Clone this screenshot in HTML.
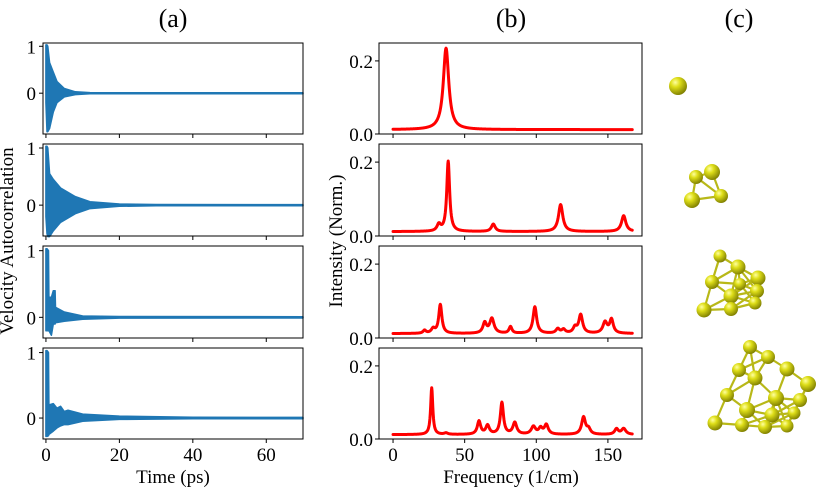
<!DOCTYPE html>
<html><head><meta charset="utf-8">
<style>
html,body{margin:0;padding:0;background:#fff;}
svg{display:block;font-family:"Liberation Serif",serif;}
</style></head>
<body>
<svg id="fig" width="831" height="490" viewBox="0 0 831 490" xmlns="http://www.w3.org/2000/svg">
<defs>
<radialGradient id="ball" cx="0.35" cy="0.3" r="0.75">
<stop offset="0" stop-color="#ffffa0"/>
<stop offset="0.35" stop-color="#dede18"/>
<stop offset="1" stop-color="#7a7a00"/>
</radialGradient>
</defs>
<text x="173" y="27" font-size="26" text-anchor="middle">(a)</text>
<text x="511" y="27" font-size="26" text-anchor="middle">(b)</text>
<text x="739" y="27" font-size="26" text-anchor="middle">(c)</text>
<text x="173" y="483" font-size="19" text-anchor="middle">Time (ps)</text>
<text x="511" y="483" font-size="19" text-anchor="middle">Frequency (1/cm)</text>
<text transform="translate(13,241) rotate(-90)" font-size="19" text-anchor="middle">Velocity Autocorrelation</text>
<text transform="translate(342,241) rotate(-90)" font-size="19" text-anchor="middle">Intensity (Norm.)</text>
<g id="plots"></g>
<g id="clusters"></g>
</svg>
<script>
// ---- data ----
const vacfTimes = [
 [0,0.3,0.5,1,2,3,5,8,12,20,70],
 [0,0.3,0.5,1,2,4,8,12,20,30,70],
 [0,0.3,0.7,0.8,1.5,2,2.5,2.6,5,10,20,70],
 [0,0.3,0.7,0.8,2,3,4,5,6,10,20,40,70]
];
const vacfUpper = [
 [1.03,1.03,1.0,0.65,0.45,0.25,0.1,0.03,0.012,0.01,0.01],
 [1.03,1.03,1.0,0.55,0.45,0.3,0.15,0.06,0.02,0.012,0.01],
 [1.03,1.03,1.0,0.3,0.3,0.4,0.4,0.15,0.08,0.02,0.012,0.01],
 [1.03,1.03,1.0,0.2,0.22,0.15,0.18,0.1,0.12,0.06,0.03,0.012,0.01]
];
const vacfLower = [
 [-0.2,-0.82,-0.82,-0.75,-0.4,-0.2,-0.08,-0.03,-0.012,-0.01,-0.01],
 [-0.2,-0.5,-0.55,-0.55,-0.45,-0.3,-0.15,-0.06,-0.02,-0.012,-0.01],
 [-0.2,-0.2,-0.2,-0.2,-0.27,-0.1,-0.1,-0.08,-0.06,-0.03,-0.012,-0.01],
 [-0.28,-0.28,-0.27,-0.25,-0.2,-0.15,-0.12,-0.1,-0.1,-0.05,-0.02,-0.01,-0.01]
];
const vacfYlim = [[-0.87,1.07],[-0.54,1.07],[-0.31,1.07],[-0.32,1.07]];
const timeTicks = [0,20,40,60];
const vacfYTicks = [0,1];

const peakCenters = [
 [37],
 [32,38.5,70,117,161],
 [22,28,33,64,69,82,99,115,119,127,131,148,152.5],
 [27,37,60,66,76,85,98,103,107,133,136.5,156,161]
];
const peakHeights = [
 [0.223],
 [0.018,0.19,0.02,0.073,0.043],
 [0.008,0.012,0.078,0.028,0.04,0.018,0.072,0.012,0.01,0.015,0.05,0.03,0.037],
 [0.128,0.004,0.036,0.024,0.087,0.032,0.021,0.016,0.026,0.047,0.014,0.015,0.016]
];
const peakWidths = [
 [2.3],
 [1.5,1.2,1.6,1.8,1.8],
 [1.2,1.5,1.3,1.5,1.8,1.2,1.5,1.5,1.5,1.5,1.6,1.8,1.5],
 [0.9,1.5,1.4,1.5,1.3,1.6,1.8,1.5,1.6,1.6,1.5,1.5,1.8]
];
const specBaseline = 0.012;
const freqMax = 167;
const freqTicks = [0,50,100,150];
const specYTicks = [0.0,0.2];

// ---- layout ----
const rows = [[43,134],[144,236],[246,338],[348,439]];
const NS = "http://www.w3.org/2000/svg";
const plots = document.getElementById('plots');
function mk(tag, attrs, parent){
  const e = document.createElementNS(NS, tag);
  for (const k in attrs) e.setAttribute(k, attrs[k]);
  (parent||plots).appendChild(e);
  return e;
}
const aX0=43, aX1=303, aXmin=-0.8, aXmax=70;
const bX0=379, bX1=642, bXmin=-9.8, bXmax=173.8;
const xa = t => aX0 + (t-aXmin)/(aXmax-aXmin)*(aX1-aX0);
const xb = f => bX0 + (f-bXmin)/(bXmax-bXmin)*(bX1-bX0);

rows.forEach((r,i)=>{
  const [top,bot] = r;
  const [ymin,ymax] = vacfYlim[i];
  const ya = v => bot - (v-ymin)/(ymax-ymin)*(bot-top);
  let d = '';
  vacfTimes[i].forEach((t,k)=>{ d += (k?'L':'M')+xa(t).toFixed(1)+','+ya(vacfUpper[i][k]).toFixed(1); });
  for (let k=vacfTimes[i].length-1;k>=0;k--) d += 'L'+xa(vacfTimes[i][k]).toFixed(1)+','+ya(vacfLower[i][k]).toFixed(1);
  d += 'Z';
  const band = mk('path',{d:d,fill:'#1f77b4',stroke:'#1f77b4','stroke-width':1.5,'stroke-linejoin':'round'});
  
  
  const frame = mk('rect',{x:aX0,y:top,width:aX1-aX0,height:bot-top,fill:'none',stroke:'#000','stroke-width':1});
  
  
  timeTicks.forEach(t=>{
    mk('line',{x1:xa(t),x2:xa(t),y1:bot,y2:bot+4,stroke:'#000'});
    if (i===3){
      const tx = mk('text',{x:xa(t),y:bot+22,'font-size':19,'text-anchor':'middle'});
      tx.textContent = t;
      
      
    }
  });
  vacfYTicks.forEach(v=>{
    mk('line',{x1:aX0-4,x2:aX0,y1:ya(v),y2:ya(v),stroke:'#000'});
    const tx = mk('text',{x:aX0-7,y:ya(v)+7,'font-size':19,'text-anchor':'end'});
    tx.textContent = v;
    
    
  });

  const sMin=0, sMax=0.249;
  const yb = v => bot - (v-sMin)/(sMax-sMin)*(bot-top);
  let pd='';
  for (let f=0; f<=freqMax; f+=0.25){
    let v = specBaseline;
    peakCenters[i].forEach((c,k)=>{ const w=peakWidths[i][k]; v += peakHeights[i][k]*w*w/((f-c)*(f-c)+w*w); });
    pd += (f?'L':'M')+xb(f).toFixed(2)+','+yb(v).toFixed(2);
  }
  const line = mk('path',{d:pd,fill:'none',stroke:'#ff0000','stroke-width':3,'stroke-linejoin':'round','stroke-linecap':'round'});
  
  
  const frame2 = mk('rect',{x:bX0,y:top,width:bX1-bX0,height:bot-top,fill:'none',stroke:'#000','stroke-width':1});
  
  
  freqTicks.forEach(f=>{
    mk('line',{x1:xb(f),x2:xb(f),y1:bot,y2:bot+4,stroke:'#000'});
    if (i===3){
      const tx = mk('text',{x:xb(f),y:bot+22,'font-size':19,'text-anchor':'middle'});
      tx.textContent = f;
      
      
    }
  });
  specYTicks.forEach(v=>{
    mk('line',{x1:bX0-4,x2:bX0,y1:yb(v),y2:yb(v),stroke:'#000'});
    const tx = mk('text',{x:bX0-6,y:yb(v)+7,'font-size':19,'text-anchor':'end'});
    tx.textContent = v.toFixed(1);
    
    
  });
});

const clusters = [
 [[678,86,9]],
 [[696,177,7],[712,172,8],[692,200,8],[721,196,7]],
 [[720,256,6.5],[738,267,7.5],[758,278,7.5],[712,282,7],[740,284,6],[731,296,7.5],[757,291,7],[704,310,7.5],[731,309,7],[755,303,6.5]],
 [[750,347,7],[768,357,7],[739,370,7],[787,369,7.5],[755,378,7.5],[808,384,8],[776,398,8],[727,395,7],[800,400,7],[747,410,8],[772,415,7.5],[794,413,6.5],[715,423,7.5],[742,425,7],[765,427,7],[787,426,6.5]]
];
const cg = document.getElementById('clusters');
clusters.forEach((atoms,ci)=>{
  const g = mk('g',{},cg);
  
  
  for (let a=0;a<atoms.length;a++) for (let b=a+1;b<atoms.length;b++){
    const dx=atoms[a][0]-atoms[b][0], dy=atoms[a][1]-atoms[b][1];
    if (Math.hypot(dx,dy) < 33) mk('line',{x1:atoms[a][0],y1:atoms[a][1],x2:atoms[b][0],y2:atoms[b][1],stroke:'#b8b818','stroke-width':2.2},g);
  }
  atoms.forEach(p=>{ mk('circle',{cx:p[0],cy:p[1],r:p[2],fill:'url(#ball)'},g); });
});
</script>
</body></html>
